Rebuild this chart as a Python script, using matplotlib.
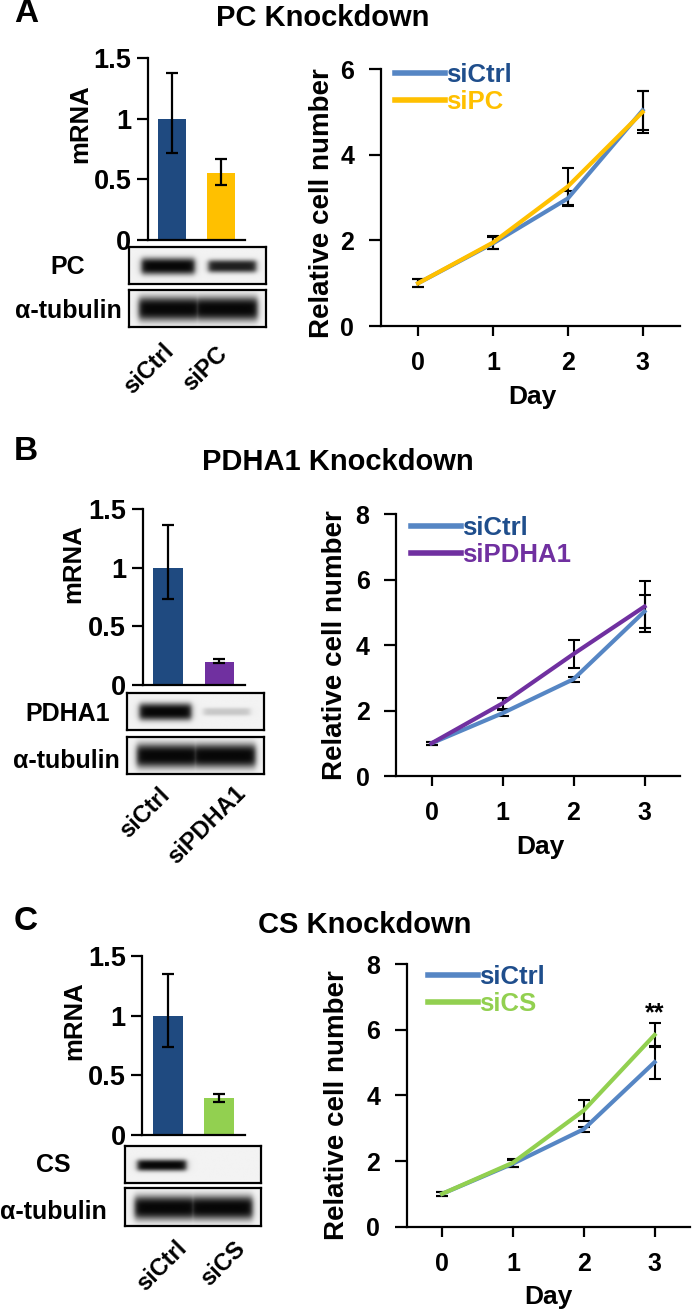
import numpy as np
import matplotlib
matplotlib.use('Agg')
import matplotlib.pyplot as plt

W, H = 693, 1311
DPI = 100

plt.rcParams['font.family'] = ['Liberation Sans', 'DejaVu Sans']
plt.rcParams['font.weight'] = 'bold'
plt.rcParams['axes.linewidth'] = 1.6

# ---------------- data ----------------
days = [0, 1, 2, 3]

# Panel A: PC knockdown
pc_groups = ['siCtrl', 'siPC']
pc_mrna = [1.0, 0.55]
pc_mrna_lo = [0.28, 0.10]
pc_mrna_hi = [0.38, 0.12]
pc_blot = [1.0, 0.6]
pc_tub = [1.0, 1.0]
pc_ctrl_growth = [1.0, 1.93, 2.98, 5.04]
pc_ctrl_err = [0.1, 0.14, 0.18, 0.46]
pc_kd_growth = [1.0, 1.95, 3.26, 5.0]
pc_kd_err = [0.1, 0.15, 0.43, 0.5]

# Panel B: PDHA1 knockdown
pdha1_groups = ['siCtrl', 'siPDHA1']
pdha1_mrna = [1.0, 0.20]
pdha1_mrna_lo = [0.27, 0.015]
pdha1_mrna_hi = [0.37, 0.02]
pdha1_blot = [1.0, 0.12]
pdha1_tub = [1.0, 1.0]
pdha1_ctrl_growth = [1.0, 1.92, 2.96, 5.03]
pdha1_ctrl_err = [0.05, 0.1, 0.08, 0.5]
pdha1_kd_growth = [1.0, 2.22, 3.73, 5.18]
pdha1_kd_err = [0.05, 0.16, 0.44, 0.78]

# Panel C: CS knockdown
cs_groups = ['siCtrl', 'siCS']
cs_mrna = [1.0, 0.31]
cs_mrna_lo = [0.265, 0.03]
cs_mrna_hi = [0.35, 0.035]
cs_blot = [0.8, 0.0]
cs_tub = [1.0, 1.0]
cs_ctrl_growth = [1.0, 1.92, 2.97, 5.01]
cs_ctrl_err = [0.05, 0.1, 0.08, 0.5]
cs_kd_growth = [1.0, 1.95, 3.54, 5.84]
cs_kd_err = [0.05, 0.12, 0.33, 0.36]

# ---------------- styles ----------------
CTRL_BAR = '#1F4A80'
CTRL_LINE = '#5686C4'
CTRL_TEXT = '#1F4E8C'
KD_COLORS = {'PC': '#FFC000', 'PDHA1': '#7030A0', 'CS': '#92D050'}

fig = plt.figure(figsize=(W / DPI, H / DPI), dpi=DPI)


def add_ax(left, top, right, bottom):
    return fig.add_axes([left / W, 1 - bottom / H, (right - left) / W, (bottom - top) / H])


def ftext(x, y, s, **kw):
    fig.text(x / W, 1 - y / H, s, **kw)


def bar_panel(rect, values, lo, hi, kd_color):
    ax = add_ax(*rect)
    xs = np.arange(len(values))
    ax.bar(xs, values, width=0.58, color=[CTRL_BAR, kd_color], zorder=1)
    ax.errorbar(xs, values, yerr=[lo, hi], fmt='none', ecolor='black',
                elinewidth=1.6, capsize=4, capthick=1.6, zorder=3)
    ax.set_xlim(-0.5, 1.5)
    ax.set_ylim(0, 1.5)
    ax.set_yticks([0, 0.5, 1, 1.5])
    ax.set_yticklabels(['0', '0.5', '1', '1.5'])
    ax.set_xticks([])
    ax.spines['top'].set_visible(False)
    ax.spines['right'].set_visible(False)
    ax.tick_params(axis='y', direction='out', length=8, width=1.6, labelsize=19.5, pad=4)
    for t in ax.get_yticklabels():
        t.set_fontweight('bold')
    return ax


def blot_panel(rect, strengths, lanes, thick):
    ax = add_ax(*rect)
    nx, ny = 260, 70
    X, Y = np.meshgrid(np.linspace(0, 1, nx), np.linspace(0, 1, ny))
    dark = np.zeros_like(X)
    for s, (x0, x1) in zip(strengths, lanes):
        if s <= 0:
            continue
        hx = 1 / (1 + np.exp(-(X - x0) / 0.012)) * 1 / (1 + np.exp((X - x1) / 0.012))
        th = thick * (0.4 + 0.6 * s)
        vy = np.exp(-np.abs((Y - 0.52) / th) ** 3)
        dark = np.maximum(dark, np.clip(1.5 * s, 0, 1) * hx * vy)
    img = 0.95 - 0.92 * np.clip(dark, 0, 1)
    ax.imshow(img, cmap='gray', vmin=0, vmax=1, extent=[0, 1, 0, 1],
              aspect='auto', interpolation='bilinear')
    ax.set_xticks([])
    ax.set_yticks([])
    for sp in ax.spines.values():
        sp.set_linewidth(1.6)
    return ax


def line_panel(rect, ymax, ctrl, ctrl_err, kd, kd_err, kd_name, kd_color, legend_xy):
    ax = add_ax(*rect)
    ax.errorbar(days, ctrl, yerr=ctrl_err, fmt='none', ecolor='black',
                elinewidth=1.5, capsize=4, capthick=1.5, zorder=2)
    ax.errorbar(days, kd, yerr=kd_err, fmt='none', ecolor='black',
                elinewidth=1.5, capsize=4, capthick=1.5, zorder=2)
    ax.plot(days, ctrl, color=CTRL_LINE, lw=3.0, label='siCtrl', zorder=3)
    ax.plot(days, kd, color=kd_color, lw=3.0, label=kd_name, zorder=4)
    ax.set_xlim(-0.5, 3.5)
    ax.set_ylim(0, ymax)
    ax.set_yticks(np.arange(0, ymax + 0.1, 2))
    ax.set_xticks(days)
    ax.spines['top'].set_visible(False)
    ax.spines['right'].set_visible(False)
    ax.tick_params(axis='y', direction='out', length=9, width=1.6, labelsize=18, pad=10)
    ax.tick_params(axis='x', direction='out', length=7, width=1.6, labelsize=18, pad=11)
    for t in ax.get_xticklabels() + ax.get_yticklabels():
        t.set_fontweight('bold')
    lx, ly = legend_xy
    leg = ax.legend(loc='upper left', bbox_to_anchor=(lx / W, 1 - ly / H),
                    bbox_transform=fig.transFigure, frameon=False,
                    borderpad=0, borderaxespad=0, handlelength=1.95,
                    handletextpad=0.05, labelspacing=0.1,
                    prop={'size': 18.5, 'weight': 'bold'})
    texts = leg.get_texts()
    texts[0].set_color(CTRL_TEXT)
    texts[1].set_color(kd_color)
    for lh in leg.get_lines():
        lh.set_linewidth(4)
    return ax


tub_lanes = [(0.07, 0.52), (0.48, 0.94)]

# ================= Panel A =================
ftext(14, 14, 'A', fontsize=24, fontweight='bold', va='center', ha='left')
ftext(323, 18, 'PC Knockdown', fontsize=21, fontweight='bold', va='center', ha='center')
bar_panel((148, 58, 245, 240), pc_mrna, pc_mrna_lo, pc_mrna_hi, KD_COLORS['PC'])
ftext(80, 124, 'mRNA', fontsize=18.5, fontweight='bold', rotation=90, va='center', ha='center')
blot_panel((129, 247, 266, 284), pc_blot, [(0.09, 0.48), (0.58, 0.93)], 0.23)
blot_panel((129, 290, 266, 327), pc_tub, tub_lanes, 0.32)
ftext(68, 267, 'PC', fontsize=18, fontweight='bold', va='center', ha='center')
ftext(122, 311, 'α-tubulin', fontsize=18, fontweight='bold', va='center', ha='right')
ftext(178, 340, pc_groups[0], fontsize=17, fontweight='bold', rotation=45, va='top', ha='right')
ftext(232, 342, pc_groups[1], fontsize=17, fontweight='bold', rotation=45, va='top', ha='right')
line_panel((380.7, 69.3, 680, 326), 6, pc_ctrl_growth, pc_ctrl_err, pc_kd_growth, pc_kd_err,
           'siPC', KD_COLORS['PC'], (395, 63))
ftext(322, 203, 'Relative cell number', fontsize=20, fontweight='bold', rotation=90, va='center', ha='center')
ftext(532, 397, 'Day', fontsize=19, fontweight='bold', va='center', ha='center')

# ================= Panel B =================
ftext(14, 452, 'B', fontsize=24, fontweight='bold', va='center', ha='left')
ftext(338, 462, 'PDHA1 Knockdown', fontsize=21, fontweight='bold', va='center', ha='center')
bar_panel((142.7, 509.3, 245, 685), pdha1_mrna, pdha1_mrna_lo, pdha1_mrna_hi, KD_COLORS['PDHA1'])
ftext(73, 564, 'mRNA', fontsize=18.5, fontweight='bold', rotation=90, va='center', ha='center')
blot_panel((127, 692.7, 264, 730), pdha1_blot, [(0.09, 0.47), (0.56, 0.9)], 0.23)
blot_panel((127, 736.7, 264, 774), pdha1_tub, tub_lanes, 0.32)
ftext(110, 714, 'PDHA1', fontsize=18, fontweight='bold', va='center', ha='right')
ftext(120, 761, 'α-tubulin', fontsize=18, fontweight='bold', va='center', ha='right')
ftext(174, 784, pdha1_groups[0], fontsize=17, fontweight='bold', rotation=45, va='top', ha='right')
ftext(250, 782, pdha1_groups[1], fontsize=17, fontweight='bold', rotation=45, va='top', ha='right')
line_panel((396, 514.3, 680, 776), 8, pdha1_ctrl_growth, pdha1_ctrl_err, pdha1_kd_growth, pdha1_kd_err,
           'siPDHA1', KD_COLORS['PDHA1'], (411, 516))
ftext(335, 645, 'Relative cell number', fontsize=20, fontweight='bold', rotation=90, va='center', ha='center')
ftext(540, 847, 'Day', fontsize=19, fontweight='bold', va='center', ha='center')

# ================= Panel C =================
ftext(14, 921, 'C', fontsize=24, fontweight='bold', va='center', ha='left')
ftext(365, 925, 'CS Knockdown', fontsize=21, fontweight='bold', va='center', ha='center')
bar_panel((142.3, 956, 245, 1135), cs_mrna, cs_mrna_lo, cs_mrna_hi, KD_COLORS['CS'])
ftext(74.5, 1021, 'mRNA', fontsize=18.5, fontweight='bold', rotation=90, va='center', ha='center')
blot_panel((125, 1145.7, 261, 1182.7), cs_blot, [(0.09, 0.45), (0.56, 0.9)], 0.18)
blot_panel((125, 1188.3, 261, 1225.7), cs_tub, tub_lanes, 0.32)
ftext(53, 1165, 'CS', fontsize=18, fontweight='bold', va='center', ha='center')
ftext(107, 1212, 'α-tubulin', fontsize=18, fontweight='bold', va='center', ha='right')
ftext(191, 1237, cs_groups[0], fontsize=17, fontweight='bold', rotation=45, va='top', ha='right')
ftext(250, 1237, cs_groups[1], fontsize=17, fontweight='bold', rotation=45, va='top', ha='right')
axc = line_panel((406.7, 964, 690, 1226.7), 8, cs_ctrl_growth, cs_ctrl_err, cs_kd_growth, cs_kd_err,
                 'siCS', KD_COLORS['CS'], (428, 965))
axc.annotate('**', xy=(3, cs_kd_growth[3] + cs_kd_err[3]), xytext=(0, 2), textcoords='offset points',
             ha='center', va='baseline', fontsize=18, fontweight='bold')
ftext(337, 1105, 'Relative cell number', fontsize=20, fontweight='bold', rotation=90, va='center', ha='center')
ftext(548, 1297, 'Day', fontsize=19, fontweight='bold', va='center', ha='center')

fig.savefig('out.png', dpi=DPI)
